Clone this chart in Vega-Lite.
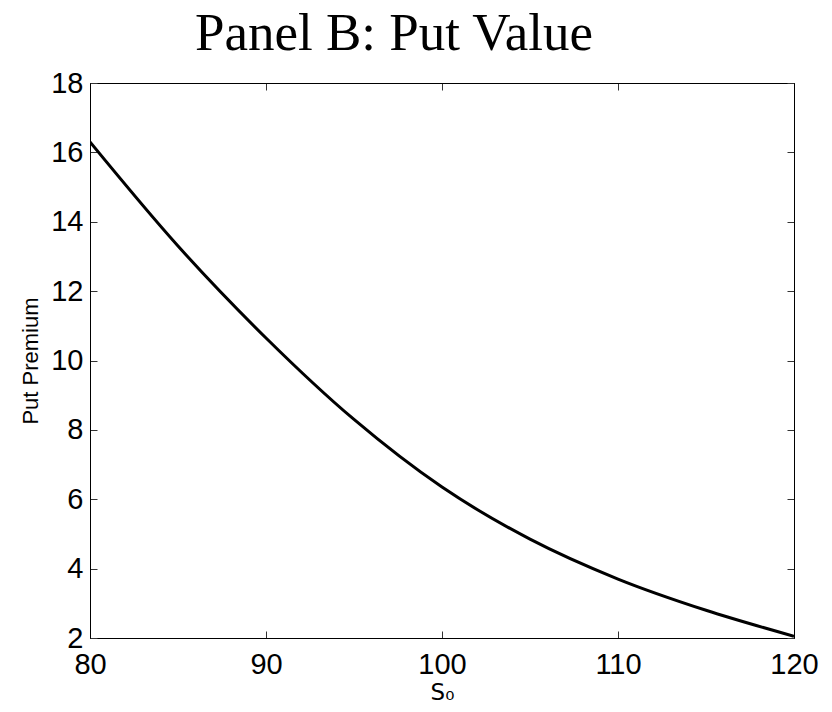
{
  "$schema": "https://vega.github.io/schema/vega-lite/v6.json",
  "width": 704,
  "height": 555,
  "autosize": {"type": "none"},
  "padding": {"left": 90, "top": 83, "right": 38, "bottom": 74},
  "background": "white",
  "title": {
    "text": "Panel B: Put Value",
    "font": "Liberation Serif",
    "fontSize": 53,
    "fontWeight": "normal",
    "color": "black",
    "anchor": "middle",
    "baseline": "bottom",
    "offset": -45,
    "dx": -48
  },
  "config": {
    "view": {"stroke": "black", "strokeWidth": 1},
    "axis": {
      "grid": false,
      "domainColor": "black",
      "domainWidth": 1,
      "tickColor": "#333333",
      "tickWidth": 1,
      "tickSize": -7,
      "labelFont": "Liberation Sans",
      "labelFontSize": 29,
      "labelColor": "black",
      "titleFont": "DejaVu Sans",
      "titleFontSize": 22,
      "titleFontWeight": "normal",
      "titleColor": "black",
      "labelFlush": false,
      "labelOverlap": false
    }
  },
  "data": {
    "values": [
      {"S0": 80, "put": 16.3},
      {"S0": 85, "put": 13.3},
      {"S0": 90, "put": 10.65},
      {"S0": 95, "put": 8.3},
      {"S0": 100, "put": 6.35},
      {"S0": 105, "put": 4.85},
      {"S0": 110, "put": 3.7},
      {"S0": 115, "put": 2.8},
      {"S0": 120, "put": 2.05}
    ]
  },
  "layer": [
    {
      "mark": {"type": "line", "color": "black", "strokeWidth": 3, "interpolate": "monotone", "clip": true},
      "encoding": {
        "x": {
          "field": "S0", "type": "quantitative",
          "scale": {"domain": [80, 120], "nice": false, "zero": false},
          "axis": {"orient": "bottom", "values": [80, 90, 100, 110, 120], "title": "S₀", "titleFontSize": 23, "labelPadding": 19, "titlePadding": 2}
        },
        "y": {
          "field": "put", "type": "quantitative",
          "scale": {"domain": [2, 18], "nice": false, "zero": false},
          "axis": {"orient": "left", "values": [2, 4, 6, 8, 10, 12, 14, 16, 18], "title": "Put Premium", "titleFont": "Liberation Sans", "labelPadding": 14, "titlePadding": 8}
        }
      }
    },
    {
      "mark": {"type": "line", "opacity": 0},
      "encoding": {
        "x": {
          "field": "S0", "type": "quantitative",
          "axis": {"orient": "top", "values": [80, 90, 100, 110, 120], "labels": false, "title": null}
        },
        "y": {
          "field": "put", "type": "quantitative",
          "axis": {"orient": "right", "values": [2, 4, 6, 8, 10, 12, 14, 16, 18], "labels": false, "title": null}
        }
      }
    }
  ],
  "resolve": {"axis": {"x": "independent", "y": "independent"}}
}
